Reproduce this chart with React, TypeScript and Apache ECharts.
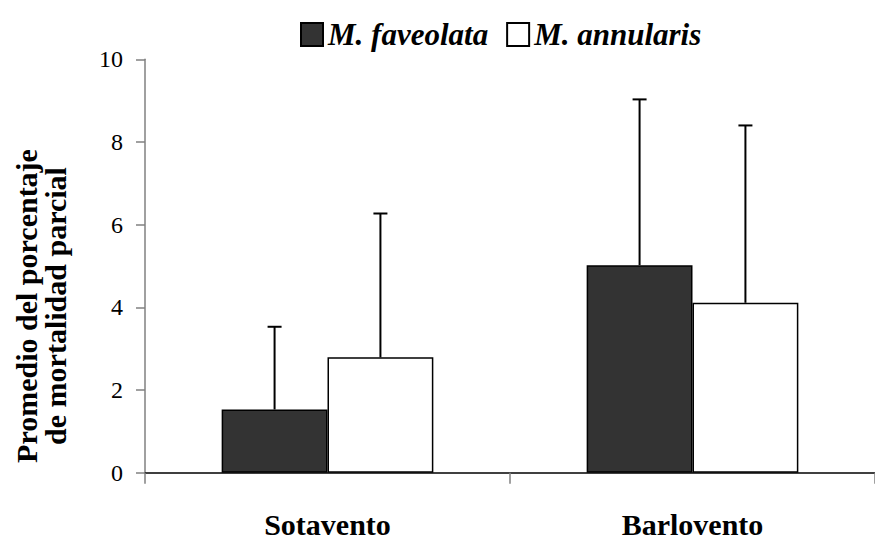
import React, { useEffect, useRef } from "react";
import * as echarts from "echarts";

const categories = ["Sotavento", "Barlovento"];
const speciesNames = ["M. faveolata", "M. annularis"];
const faveolataMean = [1.53, 5.02];
const faveolataSD = [2.0, 4.01];
const annularisMean = [2.79, 4.11];
const annularisSD = [3.48, 4.29];
const yTicks = { min: 0, max: 10, interval: 2 };
const yTitle = "Promedio del porcentaje\nde mortalidad parcial";

const FONT = "Liberation Serif";
const BAR_FRAC = 0.29;

function errorSeries(means: number[], sds: number[], sign: number) {
  return {
    type: "custom",
    name: "err" + sign,
    z: 5,
    silent: true,
    data: means.map((m, i) => [i, m, sds[i]]),
    renderItem: (params: any, api: any) => {
      const x = api.value(0);
      const m = api.value(1);
      const s = api.value(2);
      const band = api.size([1, 0])[0];
      const off = (sign * band * BAR_FRAC) / 2;
      const base = api.coord([x, m]);
      const top = api.coord([x, m + s]);
      const cx = base[0] + off;
      return {
        type: "group",
        children: [
          {
            type: "line",
            shape: { x1: cx, y1: base[1], x2: cx, y2: top[1] },
            style: { stroke: "#000", lineWidth: 2 },
          },
          {
            type: "line",
            shape: { x1: cx - 7, y1: top[1], x2: cx + 7, y2: top[1] },
            style: { stroke: "#000", lineWidth: 2 },
          },
        ],
      };
    },
  };
}

export default function App() {
  const ref = useRef<HTMLDivElement>(null);
  useEffect(() => {
    if (!ref.current) return;
    const chart = echarts.init(ref.current, undefined, { renderer: "svg" });
    chart.setOption({
      animation: false,
      backgroundColor: "#fff",
      textStyle: { fontFamily: FONT },
      legend: {
        data: speciesNames,
        left: 295,
        top: 14,
        icon: "rect",
        itemWidth: 22,
        itemHeight: 23,
        itemGap: 18,
        textStyle: {
          fontFamily: FONT,
          fontSize: 31,
          fontWeight: "bold",
          fontStyle: "italic",
          color: "#000",
        },
      },
      grid: { left: 145, top: 59.3, width: 736, height: 413.4 },
      xAxis: {
        type: "category",
        data: categories,
        axisLine: { lineStyle: { color: "#000", width: 1.5 } },
        axisTick: { show: true, length: 11, lineStyle: { color: "#808080", width: 1.5 } },
        axisLabel: {
          fontFamily: FONT,
          fontSize: 30,
          lineHeight: 30,
          fontWeight: "bold",
          color: "#000",
          margin: 37,
        },
      },
      yAxis: {
        type: "value",
        min: yTicks.min,
        max: yTicks.max,
        interval: yTicks.interval,
        splitLine: { show: false },
        axisLine: { show: true, lineStyle: { color: "#808080", width: 1.5 } },
        axisTick: { show: true, length: 9, lineStyle: { color: "#808080", width: 1.5 } },
        axisLabel: { fontFamily: FONT, fontSize: 24, color: "#000", margin: 22 },
      },
      graphic: [
        {
          type: "text",
          x: 41,
          y: 306,
          rotation: Math.PI / 2,
          style: {
            text: yTitle,
            fontFamily: FONT,
            fontSize: 30,
            fontWeight: "bold",
            fill: "#000",
            align: "center",
            verticalAlign: "middle",
            lineHeight: 29,
          },
        },
      ],
      series: [
        {
          type: "bar",
          name: speciesNames[0],
          data: faveolataMean,
          barWidth: BAR_FRAC * 100 + "%",
          barGap: "0%",
          itemStyle: { color: "#333333", borderColor: "#000", borderWidth: 1.5 },
        },
        {
          type: "bar",
          name: speciesNames[1],
          data: annularisMean,
          barWidth: BAR_FRAC * 100 + "%",
          barGap: "0%",
          itemStyle: { color: "#ffffff", borderColor: "#000", borderWidth: 1.5 },
        },
        errorSeries(faveolataMean, faveolataSD, -1),
        errorSeries(annularisMean, annularisSD, 1),
      ],
    });
    return () => chart.dispose();
  }, []);
  return (
    <div
      ref={ref}
      style={{ position: "fixed", left: 0, top: 0, width: 875, height: 541 }}
    />
  );
}
